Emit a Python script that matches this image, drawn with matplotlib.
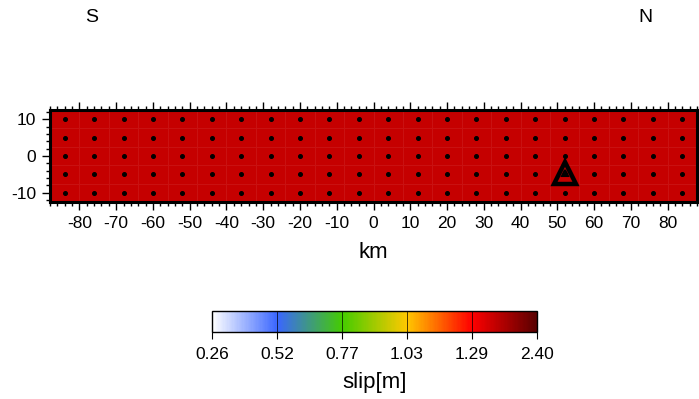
import numpy as np
import matplotlib
matplotlib.use("Agg")
import matplotlib.pyplot as plt
from matplotlib import colors as mcolors
from matplotlib.cm import ScalarMappable

plt.rcParams['font.family'] = ['Liberation Sans', 'DejaVu Sans']
plt.rcParams['axes.unicode_minus'] = False

# ---- data ----
strike_centers = [-84, -76, -68, -60, -52, -44, -36, -28, -20, -12, -4,
                  4, 12, 20, 28, 36, 44, 52, 60, 68, 76, 84]
dip_centers = [-10, -5, 0, 5, 10]
slip = [
    [1.68] * 22,
    [1.68] * 22,
    [1.68] * 22,
    [1.68] * 22,
    [1.68] * 22,
]
hypo_x = [52]
hypo_y = [-4.6]
cbar_bounds = [0.26, 0.52, 0.77, 1.03, 1.29, 2.40]
cbar_labels = ["0.26", "0.52", "0.77", "1.03", "1.29", "2.40"]
x_ticks = [-80, -70, -60, -50, -40, -30, -20, -10, 0, 10, 20, 30, 40, 50, 60, 70, 80]
y_ticks = [-10, 0, 10]

# ---- colormap ----
cmap = mcolors.LinearSegmentedColormap.from_list("slip", [
    (0.0, "#ffffff"),
    (0.2, "#3a66ff"),
    (0.4, "#44cc00"),
    (0.6, "#ffc800"),
    (0.8, "#ff0000"),
    (1.0, "#5a0000"),
])
pos = np.linspace(0, 1, len(cbar_bounds))
norm = mcolors.FuncNorm((lambda v: np.interp(v, cbar_bounds, pos),
                         lambda p: np.interp(p, pos, cbar_bounds)),
                        vmin=cbar_bounds[0], vmax=cbar_bounds[-1])

W, H = 699, 399
fig = plt.figure(figsize=(W / 100, H / 100), dpi=100)

# main axes
ax = fig.add_axes([50 / W, 1 - 202 / H, 647 / W, 92 / H])
sx = np.array(strike_centers, dtype=float)
sy = np.array(dip_centers, dtype=float)
xe = np.concatenate([sx - 4, [sx[-1] + 4]])
ye = np.concatenate([sy - 2.5, [sy[-1] + 2.5]])
ax.pcolormesh(xe, ye, np.array(slip), cmap=cmap, norm=norm,
              edgecolors=(1, 1, 1, 0.07), linewidth=0.6)
XX, YY = np.meshgrid(sx, sy)
ax.plot(XX.ravel(), YY.ravel(), 'o', color='black', markersize=2.6, linestyle='none')
ax.plot(hypo_x, hypo_y, marker='^', markersize=16, markerfacecolor='none',
        markeredgecolor='black', markeredgewidth=3.2, linestyle='none')
ax.plot(hypo_x, hypo_y, marker='^', markersize=5, markerfacecolor='none',
        markeredgecolor='black', markeredgewidth=1.5, linestyle='none')
ax.set_xlim(-88, 88)
ax.set_ylim(-12.5, 12.5)
ax.set_xticks(x_ticks)
ax.set_yticks(y_ticks)
ax.set_xticks(np.arange(-88, 89, 2), minor=True)
ax.set_yticks(np.arange(-12, 13, 2), minor=True)
ax.tick_params(which='both', direction='out', top=True, right=True,
               labelsize=12.5, width=1.0, color='black')
ax.tick_params(which='major', length=6, pad=4)
ax.tick_params(which='minor', length=3)
for s in ax.spines.values():
    s.set_linewidth(2.2)
ax.set_xlabel("km", fontsize=16, labelpad=8)

# colorbar
cax = fig.add_axes([212 / W, 1 - 332 / H, 325 / W, 21 / H])
sm = ScalarMappable(norm=norm, cmap=cmap)
cb = fig.colorbar(sm, cax=cax, orientation='horizontal', ticks=cbar_bounds)
cb.set_ticklabels(cbar_labels)
cb.outline.set_linewidth(1.0)
cax.tick_params(direction='out', length=5, width=0.8, labelsize=12.5, pad=6)
cax.xaxis.set_minor_locator(matplotlib.ticker.NullLocator())
for b in cbar_bounds[1:-1]:
    cax.axvline(b, color='black', linewidth=0.7, alpha=0.7)
cb.set_label("slip[m]", fontsize=16, labelpad=7)

fig.text(92 / W, 1 - 17 / H, "S", fontsize=14, ha='center', va='center')
fig.text(645 / W, 1 - 17 / H, "N", fontsize=14, ha='center', va='center')

fig.savefig("out.png", dpi=100)
